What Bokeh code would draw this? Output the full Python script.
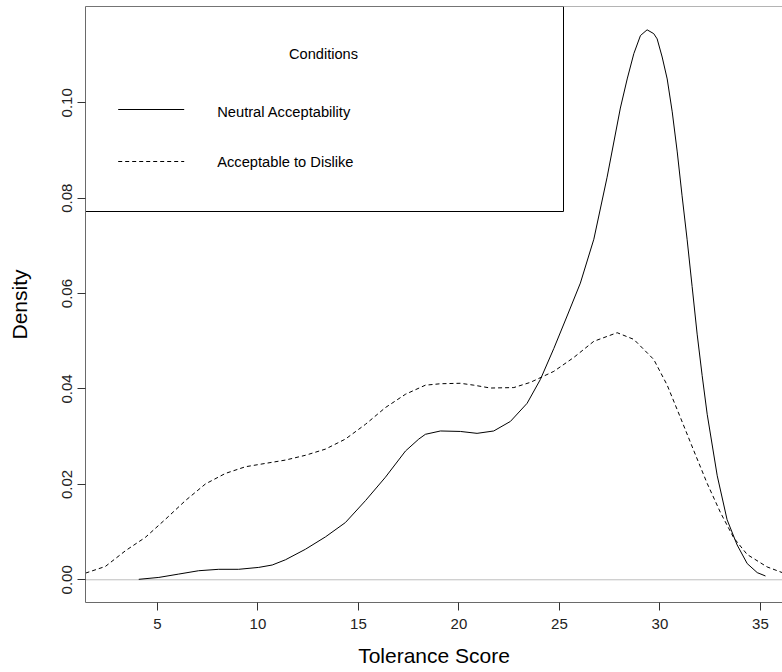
from bokeh.plotting import figure
from bokeh.models import Range1d, FixedTicker, PrintfTickFormatter, Span, Label
from bokeh.embed import file_html
from bokeh.resources import INLINE

# Kernel density estimates of tolerance scores, one curve per condition
neutral_x = [4.07, 5.07, 6.06, 7.05, 8.05, 9.04, 10.04, 10.71, 11.37, 12.36,
             13.36, 14.35, 15.35, 16.34, 17.34, 18.00, 18.33, 19.08, 20.07, 20.90,
             21.73, 22.56, 23.39, 24.05, 24.72, 25.38, 26.04, 26.71, 27.37, 28.03,
             28.37, 28.70, 29.03, 29.36, 29.69, 29.86, 30.11, 30.36, 30.61, 30.86,
             31.10, 31.35, 31.60, 31.85, 32.10, 32.35, 32.85, 33.34, 33.84, 34.34,
             34.84, 35.25]
neutral_y = [0.0001, 0.0005, 0.0012, 0.0019, 0.0022, 0.0022, 0.0026, 0.0031, 0.0042, 0.0064,
             0.0090, 0.0120, 0.0166, 0.0215, 0.0270, 0.0295, 0.0305, 0.0312, 0.0311, 0.0307,
             0.0312, 0.0332, 0.0370, 0.0420, 0.0485, 0.0553, 0.0622, 0.0714, 0.0844, 0.0989,
             0.1050, 0.1103, 0.1141, 0.1153, 0.1145, 0.1134, 0.1096, 0.1050, 0.0981, 0.0897,
             0.0805, 0.0714, 0.0615, 0.0515, 0.0428, 0.0347, 0.0218, 0.0126, 0.0073, 0.0034,
             0.0015, 0.0008]

dislike_x = [1.42, 2.41, 3.41, 4.40, 5.40, 6.39, 7.39, 8.38, 9.38, 10.37,
             11.37, 12.36, 13.36, 14.35, 15.35, 16.34, 17.34, 18.33, 19.08, 20.07,
             20.74, 21.57, 22.73, 23.56, 24.72, 25.71, 26.71, 27.87, 28.70, 29.69,
             30.36, 31.02, 31.68, 32.35, 33.01, 33.67, 34.34, 35.33, 36.09]
dislike_y = [0.0014, 0.0028, 0.0061, 0.0089, 0.0127, 0.0166, 0.0201, 0.0223, 0.0237, 0.0244,
             0.0251, 0.0261, 0.0274, 0.0295, 0.0326, 0.0361, 0.0389, 0.0408, 0.0411, 0.0412,
             0.0408, 0.0402, 0.0403, 0.0414, 0.0437, 0.0466, 0.0500, 0.0518, 0.0504, 0.0462,
             0.0408, 0.0340, 0.0271, 0.0202, 0.0141, 0.0088, 0.0053, 0.0027, 0.0015]

series_names = ["Neutral Acceptability", "Acceptable to Dislike"]
legend_title = "Conditions"
x_ticks = [5, 10, 15, 20, 25, 30, 35]
y_ticks = [0.00, 0.02, 0.04, 0.06, 0.08, 0.10]

FONT = "Liberation Sans"
AXIS_COLOR = "#6a6a6a"

# Canvas / frame geometry (pixels)
W, H = 782, 672
LEFT, TOP, BOTTOM = 85, 6, 70
FRAME_W = W - LEFT
FRAME_H = H - TOP - BOTTOM

X_START, X_END = 1.42, 1.42 + FRAME_W / 20.1
Y_START = -0.00476
Y_END = Y_START + FRAME_H / 4770.0


def fx(px):
    """Horizontal canvas pixel -> data x."""
    return X_START + (px - LEFT) * (X_END - X_START) / FRAME_W


def fy(py):
    """Vertical canvas pixel -> data y."""
    return Y_END - (py - TOP) * (Y_END - Y_START) / FRAME_H


p = figure(width=W, height=H, output_backend="svg", toolbar_location=None,
           x_range=Range1d(X_START, X_END), y_range=Range1d(Y_START, Y_END),
           min_border_left=LEFT, min_border_right=0,
           min_border_top=TOP, min_border_bottom=BOTTOM)
p.outline_line_color = None
p.grid.visible = False
p.background_fill_color = "white"
p.border_fill_color = "white"

# zero baseline
p.add_layout(Span(location=0, dimension="width", line_color="#BEBEBE",
                  line_width=1, level="underlay"))
# top edge of the plot box
p.add_layout(Span(location=Y_END, dimension="width", line_color=AXIS_COLOR,
                  line_width=1))

p.line(neutral_x, neutral_y, line_color="black", line_width=1)
p.line(dislike_x, dislike_y, line_color="black", line_width=1, line_dash="4 3")

# legend box
p.quad(left=[X_START], right=[fx(563)], top=[Y_END], bottom=[fy(211)],
       fill_color="white", line_color="black", line_width=1)
p.add_layout(Label(x=fx(323), y=fy(53), text=legend_title, text_align="center",
                   text_baseline="middle", text_font=FONT,
                   text_font_size="14.6px", text_color="black"))
p.line([fx(117.7), fx(183.7)], [fy(109), fy(109)], line_color="black", line_width=1)
p.line([fx(117.7), fx(183.7)], [fy(161), fy(161)], line_color="black",
       line_width=1, line_dash="4 3")
p.add_layout(Label(x=fx(216.7), y=fy(111), text=series_names[0], text_align="left",
                   text_baseline="middle", text_font=FONT,
                   text_font_size="14.7px", text_color="black"))
p.add_layout(Label(x=fx(216.7), y=fy(161.7), text=series_names[1], text_align="left",
                   text_baseline="middle", text_font=FONT,
                   text_font_size="14.7px", text_color="black"))

# axes
xa = p.xaxis[0]
xa.ticker = FixedTicker(ticks=x_ticks)
xa.axis_label = "Tolerance Score"
xa.axis_line_color = AXIS_COLOR
xa.major_tick_line_color = "#333333"
xa.major_tick_out = 8
xa.major_tick_in = 0
xa.minor_tick_line_color = None
xa.major_label_standoff = 8
xa.major_label_text_font = FONT
xa.major_label_text_font_size = "15px"
xa.major_label_text_color = "#222222"
xa.axis_label_standoff = 12
xa.axis_label_text_font = FONT
xa.axis_label_text_font_size = "21px"
xa.axis_label_text_font_style = "normal"
xa.axis_label_text_color = "black"

ya = p.yaxis[0]
ya.ticker = FixedTicker(ticks=y_ticks)
ya.formatter = PrintfTickFormatter(format="%.2f")
ya.axis_label = "Density"
ya.axis_line_color = AXIS_COLOR
ya.major_tick_line_color = "#333333"
ya.major_tick_out = 8
ya.major_tick_in = 0
ya.minor_tick_line_color = None
ya.major_label_orientation = "vertical"
ya.major_label_standoff = 5
ya.major_label_text_font = FONT
ya.major_label_text_font_size = "15px"
ya.major_label_text_color = "#222222"
ya.axis_label_standoff = 29
ya.axis_label_text_font = FONT
ya.axis_label_text_font_size = "21px"
ya.axis_label_text_font_style = "normal"
ya.axis_label_text_color = "black"

open("out.html", "w").write(file_html(p, INLINE))
